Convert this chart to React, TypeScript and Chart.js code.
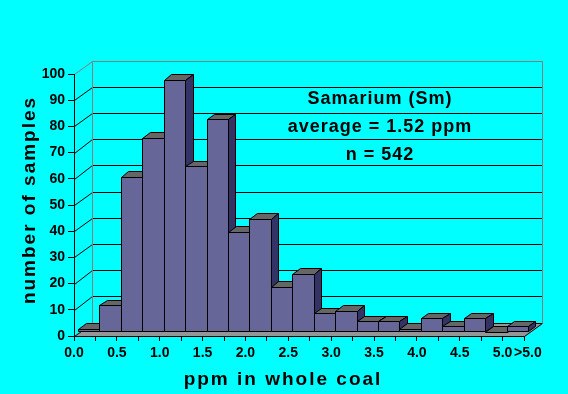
import React, { useEffect, useRef } from "react";
import { Chart, registerables } from "chart.js";

Chart.register(...registerables);

// ---- data ----
const binLabels = [
  "0.00-0.25", "0.25-0.50", "0.50-0.75", "0.75-1.00", "1.00-1.25", "1.25-1.50", "1.50-1.75",
  "1.75-2.00", "2.00-2.25", "2.25-2.50", "2.50-2.75", "2.75-3.00", "3.00-3.25", "3.25-3.50",
  "3.50-3.75", "3.75-4.00", "4.00-4.25", "4.25-4.50", "4.50-4.75", "4.75-5.00", ">5.0",
];
const sampleCounts = [1, 10, 59, 74, 96, 63, 81, 38, 43, 17, 22, 7, 8, 4, 4, 1, 5, 2, 5, 0, 2];
const xTickLabels = [
  "0.0", "", "0.5", "", "1.0", "", "1.5", "", "2.0", "", "2.5", "",
  "3.0", "", "3.5", "", "4.0", "", "4.5", "", "5.0", ">5.0",
];
const yMax = 100;
const yStep = 10;
const annotationLines = ["Samarium (Sm)", "average = 1.52 ppm", "n = 542"];
const xTitle = "ppm in whole coal";
const yTitle = "number of samples";

// ---- styles ----
const BG = "#00FFFF";
const FONT = '"Liberation Sans", Arial, sans-serif';
const BAR_FRONT = "#666699";
const BAR_TOP = "#666666";
const BAR_SIDE = "#333366";
const FLOOR = "#969696";
const WALL_EDGE = "#808080";
const WALL_DX = 17.5;
const WALL_DY = -13.5;
const BAR_OX = 4;
const BAR_OY = -4.5;
const BAR_DX = 7.5;
const BAR_DY = -5.5;

const px = (v: number) => Math.round(v) + 0.5;

function poly(ctx: CanvasRenderingContext2D, pts: number[][], fill: string, stroke: string | null) {
  ctx.beginPath();
  ctx.moveTo(px(pts[0][0]), px(pts[0][1]));
  for (let i = 1; i < pts.length; i++) ctx.lineTo(px(pts[i][0]), px(pts[i][1]));
  ctx.closePath();
  ctx.fillStyle = fill;
  ctx.fill();
  if (stroke) {
    ctx.strokeStyle = stroke;
    ctx.lineWidth = 1;
    ctx.stroke();
  }
}

function line(ctx: CanvasRenderingContext2D, x1: number, y1: number, x2: number, y2: number, color: string) {
  ctx.beginPath();
  ctx.moveTo(px(x1), px(y1));
  ctx.lineTo(px(x2), px(y2));
  ctx.strokeStyle = color;
  ctx.lineWidth = 1;
  ctx.stroke();
}

const threeDPlugin = {
  id: "threeD",
  beforeDraw(chart: any) {
    const ctx: CanvasRenderingContext2D = chart.ctx;
    const { left, right, top, bottom } = chart.chartArea;
    const ys = chart.scales.y;
    ctx.save();
    ctx.fillStyle = BG;
    ctx.fillRect(0, 0, chart.width, chart.height);
    // floor
    poly(
      ctx,
      [
        [left, bottom],
        [right, bottom],
        [right + WALL_DX, bottom + WALL_DY],
        [left + WALL_DX, bottom + WALL_DY],
      ],
      FLOOR,
      "#000"
    );
    // back wall grid lines and left wall diagonals
    for (let v = yStep; v <= yMax; v += yStep) {
      const y = ys.getPixelForValue(v);
      const color = v === yMax ? WALL_EDGE : "#000";
      line(ctx, left + WALL_DX, y + WALL_DY, right + WALL_DX, y + WALL_DY, color);
      line(ctx, left, y, left + WALL_DX, y + WALL_DY, color);
    }
    line(ctx, left + WALL_DX, top + WALL_DY, left + WALL_DX, bottom + WALL_DY, WALL_EDGE);
    line(ctx, right + WALL_DX, top + WALL_DY, right + WALL_DX, bottom + WALL_DY, WALL_EDGE);
    ctx.restore();
  },
  afterDatasetsDraw(chart: any) {
    const ctx: CanvasRenderingContext2D = chart.ctx;
    const meta = chart.getDatasetMeta(0);
    ctx.save();
    meta.data.forEach((el: any) => {
      const p = el.getProps(["x", "y", "base", "width"], true);
      const L = p.x - p.width / 2 + BAR_OX;
      const R = p.x + p.width / 2 + BAR_OX;
      const T = p.y + BAR_OY;
      const B = p.base + BAR_OY;
      if (B - T >= 1) {
        poly(ctx, [[L, T], [R, T], [R, B], [L, B]], BAR_FRONT, "#000");
      }
      poly(ctx, [[L, T], [R, T], [R + BAR_DX, T + BAR_DY], [L + BAR_DX, T + BAR_DY]], BAR_TOP, "#000");
      poly(ctx, [[R, T], [R + BAR_DX, T + BAR_DY], [R + BAR_DX, B + BAR_DY], [R, B]], BAR_SIDE, "#000");
    });
    ctx.restore();
  },
  afterDraw(chart: any) {
    const ctx: any = chart.ctx;
    ctx.save();
    ctx.fillStyle = "#000";
    // annotation
    ctx.font = `bold 18px ${FONT}`;
    ctx.letterSpacing = "1px";
    ctx.textAlign = "center";
    ctx.textBaseline = "alphabetic";
    const baselines = [104, 131.5, 159.5];
    annotationLines.forEach((t, i) => ctx.fillText(t, 380, baselines[i]));
    // axis titles
    ctx.font = `bold 19px ${FONT}`;
    ctx.letterSpacing = "2px";
    ctx.fillText(xTitle, 283, 385);
    ctx.translate(35, 200);
    ctx.rotate(-Math.PI / 2);
    ctx.fillText(yTitle, 0, 0);
    ctx.restore();
  },
};

export default function App() {
  const canvasRef = useRef<HTMLCanvasElement | null>(null);

  useEffect(() => {
    const canvas = canvasRef.current;
    if (!canvas) return;
    const chart = new Chart(canvas, {
      type: "bar",
      data: {
        labels: binLabels,
        datasets: [
          {
            label: "number of samples",
            data: sampleCounts.map((v, i) => ({ x: i + 0.5, y: v })),
            backgroundColor: "rgba(0,0,0,0)",
            borderWidth: 0,
            barPercentage: 1,
            categoryPercentage: 1,
          },
        ],
      },
      options: {
        responsive: false,
        animation: false,
        events: [],
        layout: { padding: { top: 74, right: 44, bottom: 0, left: 0 } },
        plugins: { legend: { display: false }, tooltip: { enabled: false }, title: { display: false } },
        scales: {
          x: {
            type: "linear",
            min: 0,
            max: sampleCounts.length,
            offset: false,
            afterFit: (s: any) => {
              s.height = 58;
            },
            grid: { offset: false, drawOnChartArea: false, drawTicks: true, tickLength: 5, color: "#000" },
            border: { display: true, color: "#000", width: 1 },
            ticks: {
              stepSize: 1,
              autoSkip: false,
              maxRotation: 0,
              minRotation: 0,
              padding: 4,
              color: "#000",
              font: { family: FONT, size: 14, weight: "bold" },
              callback: (v: any) => {
                const i = Math.round(Number(v));
                const t = xTickLabels[i] ?? "";
                return i === xTickLabels.length - 1 ? "  " + t : t;
              },
            },
          },
          y: {
            min: 0,
            max: yMax,
            afterFit: (s: any) => {
              s.width = 74;
            },
            grid: { drawOnChartArea: false, drawTicks: true, tickLength: 6, color: "#000" },
            border: { display: true, color: "#000", width: 1 },
            ticks: {
              stepSize: yStep,
              padding: 3,
              color: "#000",
              font: { family: FONT, size: 14, weight: "bold" },
            },
          },
        },
      } as any,
      plugins: [threeDPlugin],
    });
    return () => chart.destroy();
  }, []);

  return (
    <div style={{ position: "fixed", left: 0, top: 0, width: 568, height: 394, background: BG }}>
      <canvas ref={canvasRef} width={568} height={394} style={{ display: "block" }} />
    </div>
  );
}
